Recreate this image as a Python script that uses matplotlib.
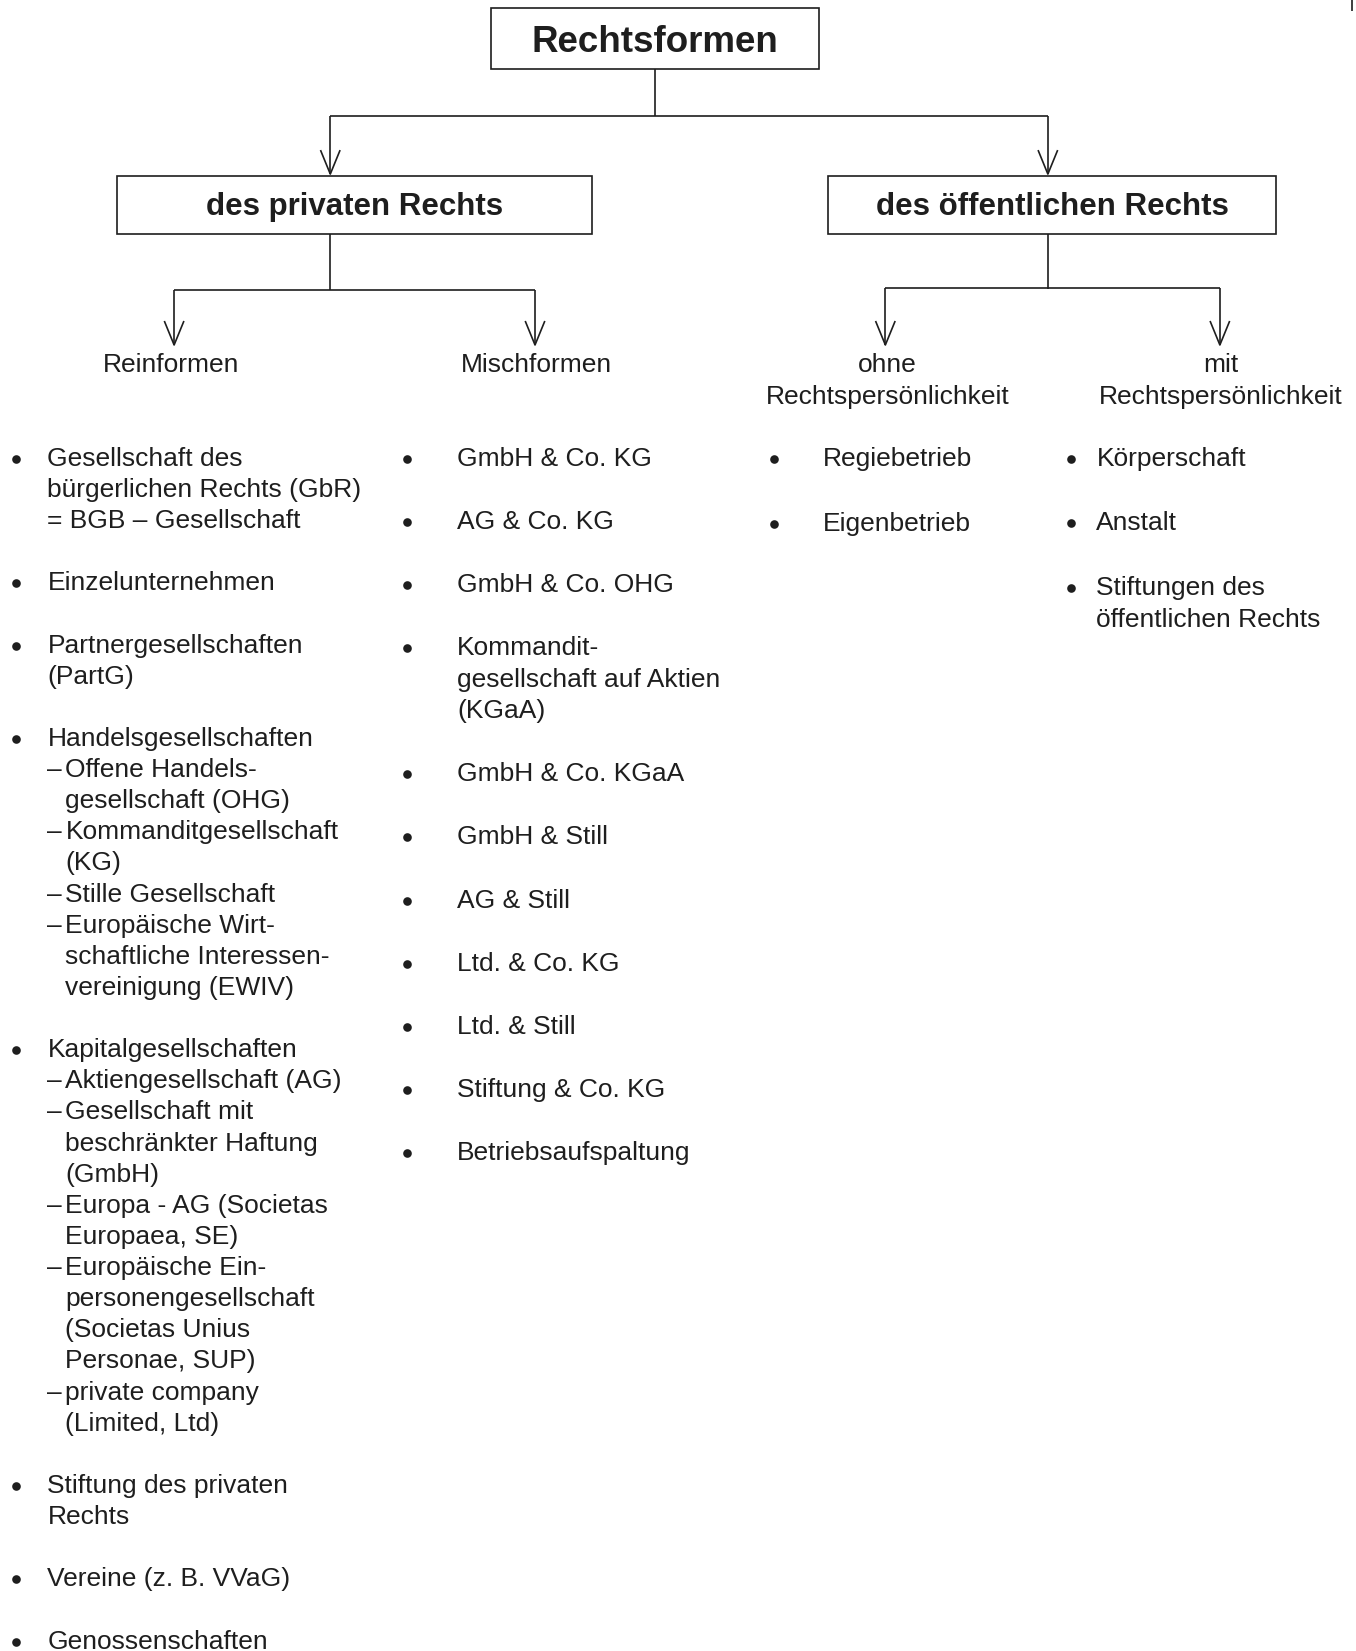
import matplotlib
matplotlib.use("Agg")
import matplotlib.pyplot as plt
from matplotlib.patches import Rectangle

plt.rcParams['font.family'] = ['Liberation Sans', 'DejaVu Sans']

# ---- texts of the diagram ----
root_label = "Rechtsformen"
branch_labels = ["des privaten Rechts", "des öffentlichen Rechts"]
sub_labels = ["Reinformen", "Mischformen", "ohne\nRechtspersönlichkeit", "mit\nRechtspersönlichkeit"]

# each item: main line(s), sub items start with "–", ">" = indented continuation
reinformen = [
	["Gesellschaft des", "bürgerlichen Rechts (GbR)", "= BGB – Gesellschaft"],
	["Einzelunternehmen"],
	["Partnergesellschaften", "(PartG)"],
	["Handelsgesellschaften", "–Offene Handels-", ">gesellschaft (OHG)", "–Kommanditgesellschaft", ">(KG)",
	 "–Stille Gesellschaft", "–Europäische Wirt-", ">schaftliche Interessen-", ">vereinigung (EWIV)"],
	["Kapitalgesellschaften", "–Aktiengesellschaft (AG)", "–Gesellschaft mit", ">beschränkter Haftung", ">(GmbH)",
	 "–Europa - AG (Societas", ">Europaea, SE)", "–Europäische Ein-", ">personengesellschaft",
	 ">(Societas Unius", ">Personae, SUP)", "–private company", ">(Limited, Ltd)"],
	["Stiftung des privaten", "Rechts"],
	["Vereine (z. B. VVaG)"],
	["Genossenschaften"],
]
mischformen = [
	["GmbH & Co. KG"],
	["AG & Co. KG"],
	["GmbH & Co. OHG"],
	["Kommandit-", "gesellschaft auf Aktien", "(KGaA)"],
	["GmbH & Co. KGaA"],
	["GmbH & Still"],
	["AG & Still"],
	["Ltd. & Co. KG"],
	["Ltd. & Still"],
	["Stiftung & Co. KG"],
	["Betriebsaufspaltung"],
]
ohne_rp = [["Regiebetrieb"], ["Eigenbetrieb"]]
mit_rp = [["Körperschaft"], ["Anstalt"], ["Stiftungen des", "öffentlichen Rechts"]]

INK = '#1e1e1e'
LW = 1.2
FS = 19
DY = 2		# small downward shift of text

def box(ax, x0, y0, x1, y1):
	ax.add_patch(Rectangle((x0, y0), x1 - x0, y1 - y0, fill=False, ec=INK, lw=LW))

def arrow_down(ax, x, y0, y1):
	ax.plot([x, x], [y0, y1], color=INK, lw=LW, solid_capstyle='butt')
	ax.plot([x - 9, x, x + 9], [y1 - 22, y1, y1 - 22], color=INK, lw=LW)

def line(ax, xs, ys):
	ax.plot(xs, ys, color=INK, lw=LW, solid_capstyle='butt')

def bullet_list(ax, items, xb, xt, y0, step=29.5):
	y = y0
	for item in items:
		ax.plot([xb], [y + DY], 'o', ms=6.2, color=INK, mew=0)
		for ln in item:
			if ln.startswith("–"):
				ax.text(xt, y + DY, "–", fontsize=FS, color=INK, ha='left', va='center')
				ax.text(xt + 17, y + DY, ln[1:], fontsize=FS, color=INK, ha='left', va='center')
			elif ln.startswith(">"):
				ax.text(xt + 17, y + DY, ln[1:], fontsize=FS, color=INK, ha='left', va='center')
			else:
				ax.text(xt, y + DY, ln, fontsize=FS, color=INK, ha='left', va='center')
			y += step
		y += step

fig = plt.figure(figsize=(13.56, 16.51), dpi=100)
ax = fig.add_axes([0, 0, 1, 1])
ax.set_xlim(0, 1285)
ax.set_ylim(1565, 0)
ax.axis('off')

# root
box(ax, 465, 8, 776, 65)
ax.text(621, 40, root_label, fontsize=26.5, fontweight='bold', color=INK, ha='center', va='center')
line(ax, [621, 621], [65, 110])
line(ax, [313, 993], [110, 110])
arrow_down(ax, 313, 110, 165)
arrow_down(ax, 993, 110, 165)

# second level
box(ax, 111, 167, 561, 222)
box(ax, 785, 167, 1209, 222)
ax.text(336, 196, branch_labels[0], fontsize=22.5, fontweight='bold', color=INK, ha='center', va='center')
ax.text(997, 196, branch_labels[1], fontsize=22.5, fontweight='bold', color=INK, ha='center', va='center')

line(ax, [313, 313], [222, 275])
line(ax, [165, 507], [275, 275])
arrow_down(ax, 165, 275, 327)
arrow_down(ax, 507, 275, 327)

line(ax, [993, 993], [222, 274])
line(ax, [839, 1156], [273, 273])
arrow_down(ax, 839, 273, 327)
arrow_down(ax, 1156, 273, 327)

# third level labels
for xc, lab in zip([162, 508, 841, 1157], sub_labels):
	for k, p in enumerate(lab.split("\n")):
		ax.text(xc, 344 + DY + 30 * k, p, fontsize=FS, color=INK, ha='center', va='center')

# lists
bullet_list(ax, reinformen, 15, 45, 433)
bullet_list(ax, mischformen, 386, 433, 433, step=29.9)
bullet_list(ax, ohne_rp, 733, 780, 433, step=31)
bullet_list(ax, mit_rp, 1015, 1039, 433, step=30.5)

# small mark at top right corner
line(ax, [1281, 1281], [0, 10])

fig.savefig("out.png", dpi=100, facecolor='white')
